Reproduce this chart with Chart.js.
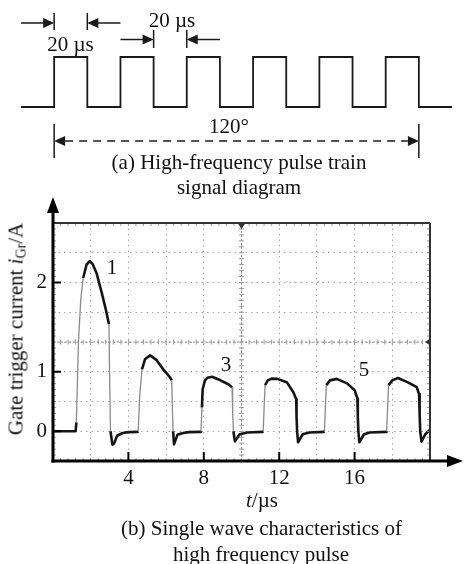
<!DOCTYPE html>
<html>
<head>
<meta charset="utf-8">
<script src="https://cdn.jsdelivr.net/npm/chart.js@4.4.1/dist/chart.umd.min.js"></script>
<style>
  html, body { margin: 0; padding: 0; background: #fff; }
  #fig { position: relative; width: 464px; height: 564px; overflow: hidden;
         font-family: 'Liberation Serif', 'Times New Roman', serif; color: #111; }
  #fig canvas { position: absolute; left: 0; top: 0; }
  .t { position: absolute; transform: translate(-50%, -50%); white-space: nowrap;
       font-size: 21px; line-height: 1; }
  .ytitle { transform: translate(-50%, -50%) rotate(-90deg); }
  .ytitle sub { font-size: 14px; vertical-align: -3px; line-height: 0; }
  .faint { font-size: 8px; color: #c4c4c4; letter-spacing: 1px; }
</style>
</head>
<body>
<div id="fig">
  <canvas id="pulse" width="464" height="564"></canvas>
  <canvas id="scope" width="464" height="564"></canvas>

  <div class="t" style="left:70.5px; top:43.5px;">20 µs</div>
  <div class="t" style="left:172px; top:20px;">20 µs</div>
  <div class="t" style="left:229px; top:126px;">120°</div>
  <div class="t" style="left:239px; top:162px;">(a) High-frequency pulse train</div>
  <div class="t" style="left:239px; top:187px;">signal diagram</div>

  <div class="t" style="left:112px; top:267px;">1</div>
  <div class="t" style="left:226px; top:363.5px;">3</div>
  <div class="t" style="left:364px; top:369px;">5</div>
  <div class="t faint" style="left:303px; top:282px;">·· ··· · ·· ·:· ·· ·</div>

  <div class="t ytitle" style="left:16px; top:329px;">Gate trigger current <i>i</i><sub>Gr</sub>/A</div>
  <div class="t" style="left:262px; top:500px;"><i>t</i>/µs</div>
  <div class="t" style="left:261.5px; top:528px;">(b) Single wave characteristics of</div>
  <div class="t" style="left:261px; top:554px;">high frequency pulse</div>
</div>

<script>
// ---- (a) pulse train: edge times (µs) and logic level after each edge ----
const pulseTime  = [-20, 0, 20, 40, 60, 80, 100, 120, 140, 160, 180, 200, 220, 240];
const pulseLevel = [0, 1, 0, 1, 0, 1, 0, 1, 0, 1, 0, 1, 0, 0];

// dimension marks of (a), in the chart's own units
const gapMarks = [
  { at: [0, 20],  from: [-20, 40], row: 1.68, span: [1.88, 1.54] },
  { at: [60, 80], from: [40, 100], row: 1.35, span: [1.54, 1.18] }
];
const spanMark = { at: [0, 220], row: -0.68, span: [-0.34, -1.02] };

// ---- (b) scope trace: time in µs, level in screen divisions ----
const traceTime = [
  0, 1.2, 1.24, 1.35, 1.47, 1.6, 1.78, 1.95, 2.1, 2.32, 2.58, 2.81, 2.97, 3.0, 3.05, 3.15, 3.25, 3.4, 3.7, 4.0, 4.5,
  4.52, 4.6, 4.72, 4.88, 5.15, 5.5, 5.85, 6.2, 6.3, 6.33, 6.37, 6.42, 6.6, 6.9, 7.2, 7.82,
  7.85, 7.9, 7.94, 8.06, 8.2, 8.43, 8.86, 9.3, 9.5, 9.53, 9.57, 9.65, 9.9, 10.3, 11.12,
  11.15, 11.2, 11.25, 11.4, 11.6, 11.9, 12.4, 12.75, 12.9, 12.92, 12.95, 13.0, 13.25, 13.6, 14.37,
  14.4, 14.45, 14.5, 14.7, 15.05, 15.6, 16.0, 16.15, 16.17, 16.2, 16.25, 16.5, 16.8, 17.67,
  17.7, 17.75, 17.8, 18.0, 18.3, 18.8, 19.3, 19.42, 19.45, 19.48, 19.55, 19.75, 20
];
const traceDiv = [
  0, 0, 0.3, 3.0, 4.4, 5.15, 5.6, 5.72, 5.62, 5.3, 4.67, 4.07, 3.6, 2.0, 0, -0.45, -0.4, -0.15, -0.06, -0.03, -0.02,
  0, 1.2, 2.08, 2.42, 2.55, 2.39, 2.08, 1.82, 1.71, 0.8, 0, -0.44, -0.12, -0.06, -0.03, -0.02,
  0, 0.8, 1.41, 1.71, 1.8, 1.83, 1.72, 1.58, 1.48, 0.7, 0, -0.34, -0.1, -0.04, -0.02,
  0, 0.8, 1.55, 1.71, 1.77, 1.76, 1.65, 1.31, 1.08, 0.5, 0, -0.37, -0.1, -0.04, -0.02,
  0, 0.8, 1.55, 1.71, 1.76, 1.61, 1.38, 1.1, 0.5, 0, -0.37, -0.1, -0.04, -0.02,
  0, 0.8, 1.55, 1.71, 1.79, 1.65, 1.48, 1.25, 0.6, 0, -0.35, -0.1, 0.05
];
const xTickVals   = [4, 8, 12, 16];
const yTickDivs   = [0, 2, 5];
const yTickLabels = ['0', '1', '2'];

const SERIF = "'Liberation Serif', 'Times New Roman', serif";

function seg(ctx, x1, y1, x2, y2) {
  ctx.beginPath(); ctx.moveTo(x1, y1); ctx.lineTo(x2, y2); ctx.stroke();
}
function head(ctx, x, y, ang, len, w) {
  ctx.save();
  ctx.translate(x, y); ctx.rotate(ang);
  ctx.beginPath(); ctx.moveTo(0, 0); ctx.lineTo(-len, -w); ctx.lineTo(-len, w); ctx.closePath();
  ctx.fill();
  ctx.restore();
}

// ---- dimension arrows for (a) ----
const dimPlugin = {
  id: 'dims',
  afterDraw(chart) {
    const { ctx, scales: { x, y } } = chart;
    const X = v => x.getPixelForValue(v), Y = v => y.getPixelForValue(v);
    ctx.save();
    ctx.strokeStyle = ctx.fillStyle = '#1a1a1a';
    ctx.lineWidth = 1.5;
    gapMarks.forEach(m => {
      m.at.forEach(t => seg(ctx, X(t), Y(m.span[0]), X(t), Y(m.span[1])));
      const yy = Y(m.row);
      seg(ctx, X(m.from[0]), yy, X(m.at[0]) - 8, yy);
      head(ctx, X(m.at[0]), yy, 0, 11, 5);
      seg(ctx, X(m.from[1]), yy, X(m.at[1]) + 8, yy);
      head(ctx, X(m.at[1]), yy, Math.PI, 11, 5);
    });
    spanMark.at.forEach(t => seg(ctx, X(t), Y(spanMark.span[0]), X(t), Y(spanMark.span[1])));
    const ry = Y(spanMark.row);
    ctx.setLineDash([8, 6]);
    seg(ctx, X(spanMark.at[0]) + 11, ry, X(spanMark.at[1]) - 11, ry);
    ctx.setLineDash([]);
    head(ctx, X(spanMark.at[0]), ry, Math.PI, 11, 5);
    head(ctx, X(spanMark.at[1]), ry, 0, 11, 5);
    ctx.restore();
  }
};

new Chart(document.getElementById('pulse'), {
  type: 'line',
  data: {
    datasets: [{
      data: pulseTime.map((t, i) => ({ x: t, y: pulseLevel[i] })),
      stepped: 'before',
      borderColor: '#1a1a1a',
      borderWidth: 1.8,
      pointRadius: 0,
      fill: false,
      clip: false
    }]
  },
  options: {
    responsive: false,
    animation: false,
    events: [],
    layout: { padding: { left: 21, right: 12, top: 57, bottom: 457 } },
    plugins: { legend: { display: false }, tooltip: { enabled: false } },
    scales: {
      x: { type: 'linear', min: -20, max: 240, display: false },
      y: { min: 0, max: 1, display: false }
    }
  },
  plugins: [dimPlugin]
});

// ---- graticule details, axes and arrows for (b) ----
const scopePlugin = {
  id: 'scopeFrame',
  afterDraw(chart) {
    const { ctx, chartArea: { left, right, top, bottom }, scales: { x, y } } = chart;
    const cx = x.getPixelForValue(10), cy = y.getPixelForValue(3);
    ctx.save();

    // centre cross lines
    ctx.strokeStyle = '#8c8c8c';
    ctx.lineWidth = 1;
    ctx.setLineDash([2, 2]);
    seg(ctx, cx, top, cx, bottom);
    seg(ctx, left, cy, right, cy);
    ctx.setLineDash([]);

    // minor ticks on edges and centre lines
    ctx.strokeStyle = '#9a9a9a';
    for (let t = 0; t <= 20.001; t += 0.4) {
      const px = x.getPixelForValue(t);
      seg(ctx, px, top, px, top + 3);
      seg(ctx, px, bottom, px, bottom - 3);
      seg(ctx, px, cy - 2.5, px, cy + 2.5);
    }
    for (let d = -1; d <= 7.001; d += 0.2) {
      const py = y.getPixelForValue(d);
      seg(ctx, left, py, left + 3, py);
      seg(ctx, right, py, right - 3, py);
      seg(ctx, cx - 2.5, py, cx + 2.5, py);
    }

    // frame top / right
    ctx.strokeStyle = '#333';
    ctx.lineWidth = 2;
    seg(ctx, left, top, right, top);
    seg(ctx, right, top, right, bottom);

    // trigger markers
    ctx.fillStyle = '#333';
    head(ctx, cx, top + 6, Math.PI / 2, 6, 4);
    head(ctx, right - 5, cy, Math.PI, 6, 4);

    // main axes with arrows
    ctx.strokeStyle = ctx.fillStyle = '#000';
    ctx.lineWidth = 3;
    seg(ctx, left, bottom + 1.5, left, top - 10);
    head(ctx, left, top - 26, -Math.PI / 2, 16, 6);
    seg(ctx, left - 1.5, bottom, right + 20, bottom);
    head(ctx, right + 33, bottom, 0, 16, 6);

    // major tick marks
    ctx.lineWidth = 2;
    xTickVals.forEach(v => {
      const px = x.getPixelForValue(v);
      seg(ctx, px, bottom, px, bottom - 9);
    });
    yTickDivs.forEach(v => {
      const py = y.getPixelForValue(v);
      seg(ctx, left, py, left + 8, py);
    });
    ctx.restore();
  }
};

const steep = c => {
  const dy = Math.abs(c.p1.y - c.p0.y), dx = Math.abs(c.p1.x - c.p0.x);
  return dy > 20 && dy > 4 * dx;
};

const gridOpts = { color: '#a6a6a6', lineWidth: 1, drawTicks: false };
const tickFont = { family: SERIF, size: 21 };

new Chart(document.getElementById('scope'), {
  type: 'line',
  data: {
    datasets: [{
      data: traceTime.map((t, i) => ({ x: t, y: traceDiv[i] })),
      borderColor: '#151515',
      borderWidth: 2.6,
      borderJoinStyle: 'round',
      pointRadius: 0,
      tension: 0,
      fill: false,
      segment: {
        borderColor: c => steep(c) ? '#8a8a8a' : '#151515',
        borderWidth: c => steep(c) ? 1.3 : 2.6
      }
    }]
  },
  options: {
    responsive: false,
    animation: false,
    events: [],
    layout: { padding: { left: 0, right: 34, top: 223, bottom: 73 } },
    plugins: { legend: { display: false }, tooltip: { enabled: false } },
    scales: {
      x: {
        type: 'linear', min: 0, max: 20,
        afterFit: s => { s.height = 30; },
        grid: gridOpts,
        border: { display: false, dash: [1.5, 4] },
        ticks: {
          stepSize: 2, autoSkip: false, maxRotation: 0, padding: 5,
          color: '#111', font: tickFont,
          callback: v => xTickVals.includes(v) ? String(v) : ''
        }
      },
      y: {
        min: -1, max: 7,
        afterFit: s => { s.width = 53; },
        grid: gridOpts,
        border: { display: false, dash: [1.5, 4] },
        ticks: {
          stepSize: 1, padding: 6,
          color: '#111', font: tickFont,
          callback: v => {
            const k = yTickDivs.indexOf(v);
            return k < 0 ? '' : yTickLabels[k];
          }
        }
      }
    }
  },
  plugins: [scopePlugin]
});
</script>
</body>
</html>
